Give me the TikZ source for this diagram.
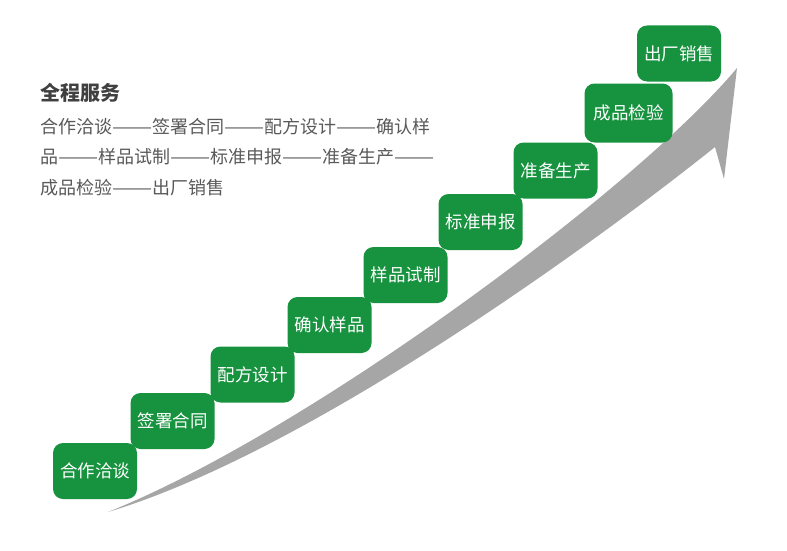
\documentclass[tikz,border=0pt]{standalone}
\usepackage{fontspec}
\setmainfont{Noto Sans CJK SC}
\newcommand{\dsh}{\scalebox{1.33}[1]{——}}
\definecolor{stagegreen}{HTML}{17923F}
\definecolor{arrowgray}{HTML}{A6A6A6}
\definecolor{titlegray}{HTML}{404040}
\definecolor{bodygray}{HTML}{595959}
\begin{document}
\begin{tikzpicture}[x=1pt,y=-1pt,
  stagebox/.style={fill=stagegreen, rounded corners=10pt, minimum width=84pt,
    minimum height=56pt, text=white, inner sep=0pt,
    font=\fontsize{17.5}{20}\selectfont},
  bodyline/.style={anchor=west, inner sep=0pt, text=bodygray,
    font=\fontsize{18}{20}\selectfont}]
\useasboundingbox (0,0) rectangle (787,551);
% big curved arrow
\fill[arrowgray]
  (108,512) .. controls (308,432) and (637,188) .. (737,68)
  -- (724,179) -- (715,147)
  .. controls (595,243) and (308,452) .. (108,512)
  -- cycle;
% stages
\node[stagebox] (s1) at (95,471) {合作洽谈};
\node[stagebox] (s2) at (172.5,421) {签署合同};
\node[stagebox] (s3) at (252.5,374.5) {配方设计};
\node[stagebox] (s4) at (329.5,325) {确认样品};
\node[stagebox] (s5) at (405.5,275) {样品试制};
\node[stagebox] (s6) at (480.5,222) {标准申报};
\node[stagebox] (s7) at (555.5,170.5) {准备生产};
\node[stagebox, minimum width=88pt, minimum height=59pt] (s8) at (628.5,113) {成品检验};
\node[stagebox] (s9) at (679,53.5) {出厂销售};
% text block
\node[anchor=west, inner sep=0pt, text=titlegray, font=\fontsize{20}{22}\selectfont\bfseries] (title) at (40,92.5) {全程服务};
\node[bodyline] (l1) at (40,126.5) {合作洽谈\dsh 签署合同\dsh 配方设计\dsh 确认样};
\node[bodyline] (l2) at (40,157) {品\dsh 样品试制\dsh 标准申报\dsh 准备生产\dsh};
\node[bodyline] (l3) at (40,187.5) {成品检验\dsh 出厂销售};
\end{tikzpicture}
\end{document}
